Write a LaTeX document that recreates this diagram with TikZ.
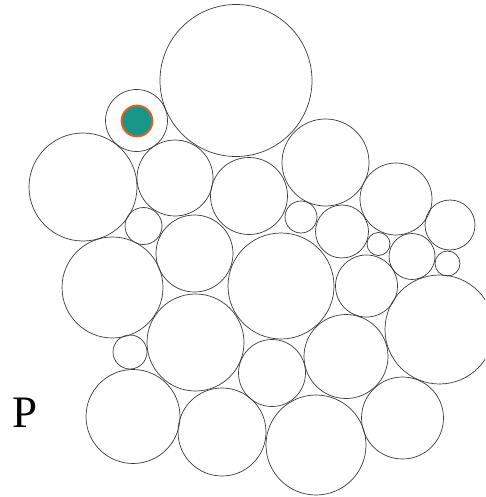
\documentclass[tikz,border=0pt]{standalone}
\usepackage{fontspec}
\setmainfont{Liberation Serif}
\definecolor{tealfill}{HTML}{1A9688}
\definecolor{orangeline}{HTML}{E8601C}
\definecolor{ringline}{HTML}{3A3A3A}
\begin{document}
\begin{tikzpicture}[x=1pt,y=-1pt,
  bub/.style={circle,draw=ringline,line width=0.7pt,inner sep=0pt,minimum size=#1},
  dot/.style={circle,draw=orangeline,fill=tealfill,line width=1.8pt,inner sep=0pt,minimum size=#1},
  lbl/.style={inner sep=0pt,anchor=base west,font=\fontsize{45}{45}\selectfont}]
\useasboundingbox (0,0) rectangle (485,497);
\clip (0,0) rectangle (485,497);
\node[bub=152pt] (c1) at (236,80.5) {};
\node[bub=62pt] (c2) at (136.5,120.5) {};
\node[dot=31pt] (t) at (137,121) {};
\node[bub=108pt] (c3) at (83,187) {};
\node[bub=76pt] (c4) at (175,178) {};
\node[bub=77pt] (c5) at (249,196) {};
\node[bub=87pt] (c6) at (325.5,162.5) {};
\node[bub=72pt] (c7) at (396,199) {};
\node[bub=32pt] (c8) at (301,217) {};
\node[bub=53pt] (c9) at (342,231.5) {};
\node[bub=50pt] (c10) at (450,225) {};
\node[bub=23pt] (c11) at (378.5,244) {};
\node[bub=46pt] (c12) at (412,256.5) {};
\node[bub=25pt] (c13) at (447.5,263.5) {};
\node[bub=37pt] (c14) at (143.5,226) {};
\node[bub=77pt] (c15) at (194.5,253.5) {};
\node[bub=101pt] (c16) at (112.5,287.5) {};
\node[bub=106pt] (c17) at (281,286) {};
\node[bub=62pt] (c18) at (366.5,286) {};
\node[bub=109pt] (c19) at (439.5,329.5) {};
\node[bub=34pt] (c20) at (130,352) {};
\node[bub=97pt] (c21) at (195.5,342.5) {};
\node[bub=67pt] (c22) at (272,373) {};
\node[bub=84pt] (c23) at (346,356.5) {};
\node[bub=94pt] (c24) at (133,416.5) {};
\node[bub=88pt] (c25) at (222,432) {};
\node[bub=100pt] (c26) at (316,445) {};
\node[bub=82pt] (c27) at (402.5,418) {};
\node[lbl] (p) at (12,427) {P};
\end{tikzpicture}
\end{document}
